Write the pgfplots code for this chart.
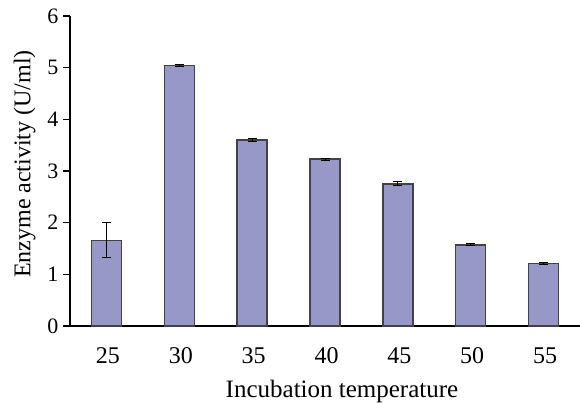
\documentclass[border=0pt]{standalone}
\usepackage{pgfplots}
\pgfplotsset{compat=1.18}
\usepackage{fontspec}
\setmainfont{Liberation Serif}
\definecolor{barfill}{RGB}{152,152,200}
\definecolor{baredge}{RGB}{65,65,70}
\begin{document}
\begin{tikzpicture}
\begin{axis}[
  scale only axis,
  width=510bp, height=310bp,
  xmin=-0.5, xmax=6.5,
  ymin=0, ymax=6,
  axis lines*=left,
  axis line style={line width=1.6bp, -},
  xtick={0,...,6},
  xticklabels={25,30,35,40,45,50,55},
  major x tick style={draw=none},
  extra x ticks={-0.5,0.5,1.5,2.5,3.5,4.5,5.5},
  extra x tick labels={},
  extra x tick style={tick style={line width=1.6bp, black}, major tick length=8bp, tick align=outside},
  ytick={0,1,2,3,4,5,6},
  yticklabel={\fontsize{22bp}{26bp}\selectfont\pgfmathprintnumber{\tick}},
  y tick style={line width=1.6bp, black},
  tick align=outside,
  major tick length=7bp,
  /pgf/number format/assume math mode=true,
  xticklabel style={font=\fontsize{24bp}{28bp}\selectfont, yshift=-11bp, xshift=1.5bp},
  yticklabel style={xshift=-1bp},
  xlabel={Incubation temperature},
  ylabel={Enzyme activity (U/ml)},
  xlabel style={font=\fontsize{25bp}{28bp}\selectfont, yshift=5bp, xshift=17bp},
  ylabel style={font=\fontsize{24bp}{27bp}\selectfont, yshift=5bp, xshift=7bp},
  clip=false,
]
\addplot[ybar, bar width=30bp, fill=barfill, draw=baredge, line width=1.4bp,
  error bars/.cd, y dir=both, y explicit,
  error bar style={black, line width=1bp},
  error mark options={rotate=90, mark size=4.5bp, line width=1bp, black}]
  coordinates {
    (0,1.66) +- (0,0.34)
    (1,5.04) +- (0,0.02)
    (2,3.60) +- (0,0.02)
    (3,3.23) +- (0,0.02)
    (4,2.75) +- (0,0.04)
    (5,1.57) +- (0,0.02)
    (6,1.21) +- (0,0.02)
  };
\coordinate (bl) at (rel axis cs:0,0);
\coordinate (tr) at (rel axis cs:1,1);
\end{axis}
\pgfresetboundingbox
\path[use as bounding box] ([xshift=-70bp,yshift=-77bp]bl) rectangle ([yshift=16bp]tr);
\end{tikzpicture}
\end{document}
